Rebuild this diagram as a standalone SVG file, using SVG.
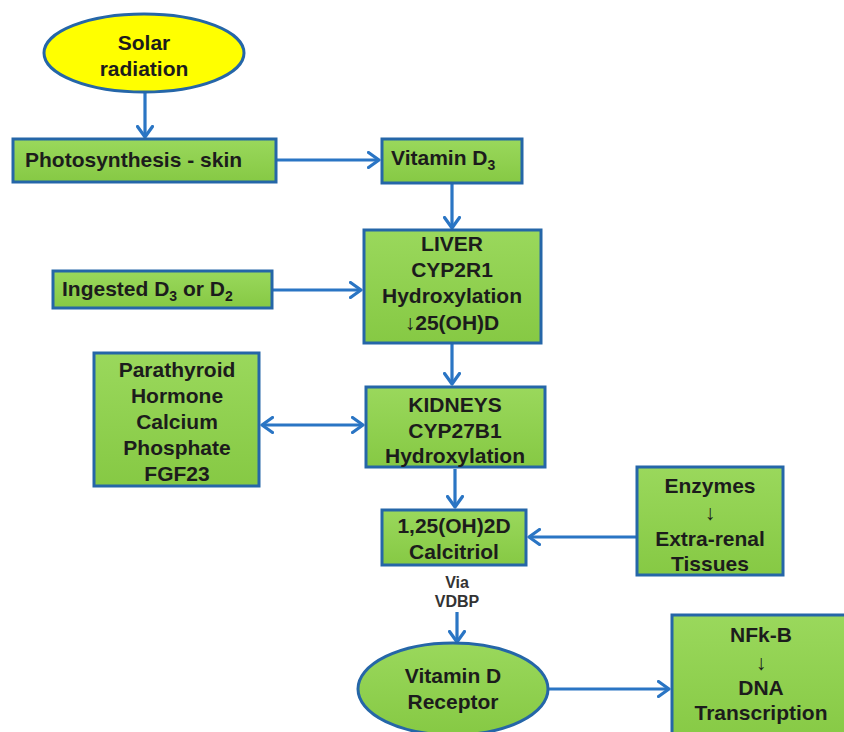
<svg xmlns="http://www.w3.org/2000/svg" width="844" height="732" viewBox="0 0 844 732">
<defs>
<linearGradient id="g" x1="0" y1="0" x2="0" y2="1">
<stop offset="0" stop-color="#9ad85c"/>
<stop offset="1" stop-color="#86c944"/>
</linearGradient>
<marker id="ah" viewBox="0 0 14 18" refX="12" refY="9" markerWidth="14" markerHeight="18" markerUnits="userSpaceOnUse" orient="auto-start-reverse">
<path d="M1.5,1.5 L12,9 L1.5,16.5" fill="none" stroke="#2a75c4" stroke-width="3.2" stroke-linecap="round" stroke-linejoin="round"/>
</marker>
</defs>
<style>
.box{fill:url(#g);stroke:#2566a8;stroke-width:3}
.ell{stroke:#2566a8;stroke-width:3}
.t{font-family:"Liberation Sans",Arial,sans-serif;font-weight:bold;font-size:21px;fill:#1c1c1c}
.c{text-anchor:middle}
.s{font-family:"Liberation Sans",Arial,sans-serif;font-weight:bold;font-size:16px;fill:#333;text-anchor:middle}
.a{stroke:#2a75c4;stroke-width:3.2;fill:none;marker-end:url(#ah)}
</style>
<rect width="844" height="732" fill="#fff"/>
<g id="connectors">
<line class="a" x1="145" y1="92" x2="145" y2="137"/>
<line class="a" x1="277" y1="160" x2="379" y2="160"/>
<line class="a" x1="452" y1="184" x2="452" y2="228"/>
<line class="a" x1="273" y1="290" x2="361" y2="290"/>
<line class="a" x1="452" y1="344" x2="452" y2="384"/>
<line class="a" x1="262" y1="425" x2="363" y2="425" marker-start="url(#ah)"/>
<line class="a" x1="455" y1="469" x2="455" y2="507"/>
<line class="a" x1="636" y1="537" x2="529" y2="537"/>
<line class="a" x1="457" y1="612" x2="457" y2="642"/>
<line class="a" x1="549" y1="689" x2="669" y2="689"/>
</g>
<g id="solar">
<ellipse class="ell" cx="144" cy="53" rx="100" ry="39" fill="#ffff00"/>
<text class="t c" x="144" y="50">Solar</text>
<text class="t c" x="144" y="76">radiation</text>
</g>
<g id="photosynthesis">
<rect class="box" x="13" y="139" width="263" height="43"/>
<text class="t" x="25" y="167">Photosynthesis - skin</text>
</g>
<g id="vitd3">
<rect class="box" x="382" y="139" width="140" height="44"/>
<text class="t" x="391" y="165">Vitamin D<tspan font-size="14" dy="5">3</tspan></text>
</g>
<g id="liver">
<rect class="box" x="364" y="230" width="177" height="113"/>
<text class="t c" x="452" y="251">LIVER</text>
<text class="t c" x="452" y="277">CYP2R1</text>
<text class="t c" x="452" y="303">Hydroxylation</text>
<text class="t c" x="452" y="330">↓25(OH)D</text>
</g>
<g id="ingested">
<rect class="box" x="53" y="271" width="219" height="37"/>
<text class="t" x="62" y="296">Ingested D<tspan font-size="14" dy="5">3</tspan><tspan dy="-5"> or D</tspan><tspan font-size="14" dy="5">2</tspan></text>
</g>
<g id="parathyroid">
<rect class="box" x="94" y="353" width="165" height="133"/>
<text class="t c" x="177" y="377">Parathyroid</text>
<text class="t c" x="177" y="403">Hormone</text>
<text class="t c" x="177" y="429">Calcium</text>
<text class="t c" x="177" y="455">Phosphate</text>
<text class="t c" x="177" y="481">FGF23</text>
</g>
<g id="kidneys">
<rect class="box" x="366" y="387" width="179" height="80"/>
<text class="t c" x="455" y="412">KIDNEYS</text>
<text class="t c" x="455" y="438">CYP27B1</text>
<text class="t c" x="455" y="463">Hydroxylation</text>
</g>
<g id="calcitriol">
<rect class="box" x="382" y="510" width="144" height="55"/>
<text class="t c" x="454" y="533">1,25(OH)2D</text>
<text class="t c" x="454" y="559">Calcitriol</text>
</g>
<g id="enzymes">
<rect class="box" x="637" y="467" width="146" height="108"/>
<text class="t c" x="710" y="493">Enzymes</text>
<text class="t c" x="710" y="520" font-size="17" style="font-weight:normal">↓</text>
<text class="t c" x="710" y="546">Extra-renal</text>
<text class="t c" x="710" y="571">Tissues</text>
</g>
<g id="via">
<text class="s" x="457" y="588">Via</text>
<text class="s" x="457" y="607">VDBP</text>
</g>
<g id="vdr">
<ellipse class="ell" cx="453" cy="689" rx="95" ry="46" fill="url(#g)"/>
<text class="t c" x="453" y="683">Vitamin D</text>
<text class="t c" x="453" y="709">Receptor</text>
</g>
<g id="nfkb">
<rect class="box" x="672" y="615" width="180" height="130"/>
<text class="t c" x="761" y="642">NFk-B</text>
<text class="t c" x="761" y="670" font-size="17" style="font-weight:normal">↓</text>
<text class="t c" x="761" y="695">DNA</text>
<text class="t c" x="761" y="720">Transcription</text>
</g>
</svg>
